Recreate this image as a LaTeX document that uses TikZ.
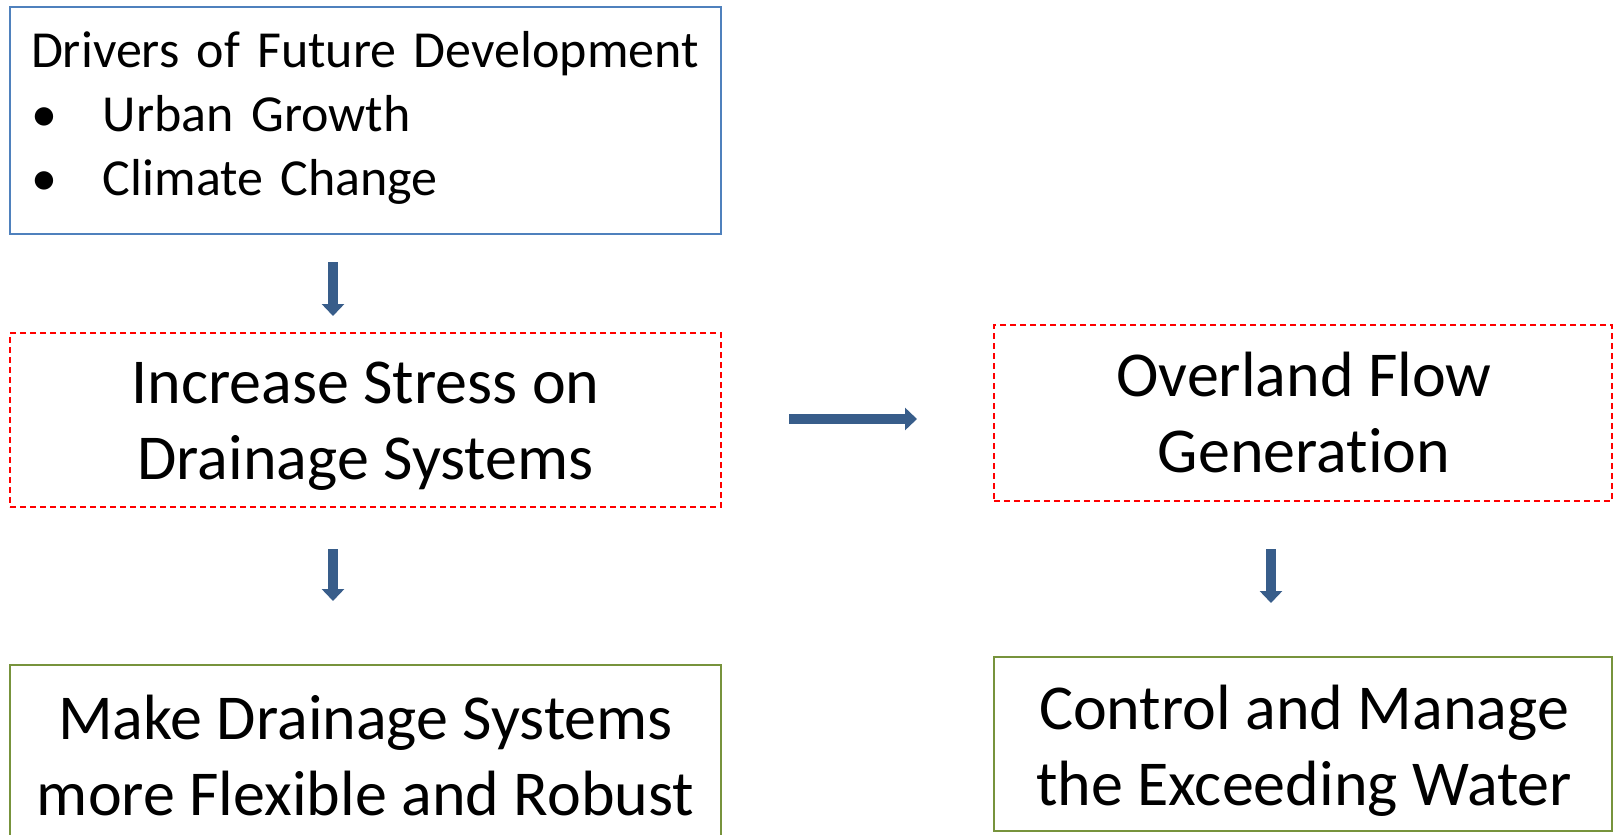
\documentclass[tikz,border=0pt]{standalone}
\usepackage{fontspec}
\setmainfont[Ligatures={NoCommon}]{Carlito}
\usetikzlibrary{arrows.meta}
\definecolor{boxblue}{HTML}{4F81BD}
\definecolor{boxred}{HTML}{FF0000}
\definecolor{boxgreen}{HTML}{77933C}
\definecolor{arrowblue}{HTML}{385D8A}
\begin{document}
\begin{tikzpicture}[x=1pt,y=-1pt,
  panel/.style={line width=1.5pt, inner sep=0pt},
  solidblue/.style={panel, draw=boxblue},
  dashedred/.style={panel, draw=boxred, dash pattern=on 6pt off 4pt},
  solidgreen/.style={panel, draw=boxgreen},
  bigtext/.style={inner sep=0pt, align=center, font=\fontsize{64}{76}\selectfont},
  blockarrow/.style={draw=arrowblue, line width=10pt,
    -{Triangle[width=22pt,length=12pt,fill=arrowblue]}}]
  \clip (0,0) rectangle (1615,835);
  \fill[white] (0,0) rectangle (1615,835);

  % frames
  \node[solidblue, minimum width=711pt, minimum height=227pt] (drivers) at (365.5,120.5) {};
  \node[dashedred, minimum width=711pt, minimum height=174pt] (stress) at (365.5,420) {};
  \node[dashedred, minimum width=618pt, minimum height=176pt] (overland) at (1303,413) {};
  \node[solidgreen, minimum width=711pt, minimum height=205pt] (flexible) at (365.5,767.5) {};
  \node[solidgreen, minimum width=618pt, minimum height=174pt] (control) at (1303,744) {};

  % texts
  \node[inner sep=0pt, align=left, text width=669pt,
        font=\fontsize{52}{64}\selectfont] (driverstext) at (365.5,117.5)
    {Drivers of Future Development\\
     \makebox[72pt][l]{•}Urban Growth\\
     \makebox[72pt][l]{•}Climate Change};
  \node[bigtext] (stresstext) at (365.5,426) {Increase Stress on\\Drainage Systems};
  \node[bigtext] (overlandtext) at (1304,413) {Overland Flow\\Generation};
  \node[bigtext] (flexibletext) at (365.5,756) {Make Drainage Systems\\more Flexible and Robust};
  \node[bigtext] (controltext) at (1304,751) {Control and Manage\\the Exceeding Water};

  % arrow end points
  \coordinate (a1s) at (333,262);
  \coordinate (a1e) at (333,316);
  \coordinate (a2s) at (789,419);
  \coordinate (a2e) at (917,419);
  \coordinate (a3s) at (333,549);
  \coordinate (a3e) at (333,601);
  \coordinate (a4s) at (1271,549);
  \coordinate (a4e) at (1271,603);

  \draw[blockarrow] (a1s) -- (a1e);
  \draw[blockarrow] (a2s) -- (a2e);
  \draw[blockarrow] (a3s) -- (a3e);
  \draw[blockarrow] (a4s) -- (a4e);
\end{tikzpicture}
\end{document}
